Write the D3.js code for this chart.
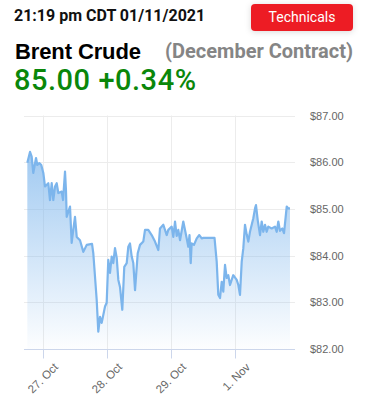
<!DOCTYPE html>
<html>
<head>
<meta charset="utf-8">
<script src="https://cdn.jsdelivr.net/npm/d3@7"></script>
<style>
	html, body { margin: 0; padding: 0; background: #fff; }
	svg { display: block; font-family: Roboto, "Noto Sans", sans-serif; }
</style>
</head>
<body>
<svg id="chart" width="369" height="395"></svg>
<script>

// trading days, 0 = 27 Oct (weekend dropped)
var dayTicks	= [0, 1, 2, 3];
var dayLabels	= ["27. Oct", "28. Oct", "29. Oct", "1. Nov"];
var priceTicks	= [82, 83, 84, 85, 86, 87];

var days = [
	-0.245, -0.203, -0.177, -0.152, -0.109, -0.089, -0.058, -0.027, 0.005, 0.031,
	0.083, 0.109, 0.136, 0.161, 0.188, 0.214, 0.239, 0.292, 0.313, 0.344,
	0.359, 0.370, 0.422, 0.448, 0.473, 0.500, 0.527, 0.578, 0.630, 0.683,
	0.766, 0.786, 0.839, 0.864, 0.891, 0.917, 0.969, 0.995, 1.020, 1.047,
	1.073, 1.098, 1.125, 1.152, 1.177, 1.203, 1.239, 1.270, 1.308, 1.333,
	1.359, 1.386, 1.411, 1.438, 1.480, 1.516, 1.567, 1.594, 1.645, 1.698,
	1.750, 1.802, 1.828, 1.880, 1.933, 1.958, 2.011, 2.036, 2.063, 2.089,
	2.114, 2.141, 2.192, 2.245, 2.270, 2.289, 2.308, 2.323, 2.359, 2.402,
	2.442, 2.480, 2.505, 2.680, 2.714, 2.739, 2.766, 2.792, 2.817, 2.844,
	2.870, 2.895, 2.922, 2.948, 2.973, 3.027, 3.052, 3.078, 3.105, 3.130,
	3.156, 3.183, 3.208, 3.234, 3.261, 3.286, 3.313, 3.328, 3.355, 3.391,
	3.417, 3.442, 3.469, 3.495, 3.520, 3.573, 3.625, 3.652, 3.677, 3.703,
	3.739, 3.766, 3.808, 3.833, 3.859
];

var prices = [
	85.99, 86.22, 86.12, 85.77, 86.09, 85.94, 85.98, 85.94, 85.77, 85.48,
	85.55, 85.19, 85.55, 85.19, 85.48, 85.55, 85.34, 85.37, 85.19, 85.80,
	85.40, 84.83, 85.05, 84.27, 84.55, 84.83, 84.40, 84.33, 84.08, 84.23,
	84.25, 84.05, 83.05, 82.37, 82.69, 82.56, 82.91, 82.99, 83.91, 83.63,
	83.98, 83.84, 84.16, 83.95, 83.48, 83.33, 82.84, 83.76, 83.84, 84.19,
	84.26, 83.98, 83.84, 83.26, 84.05, 84.23, 84.30, 84.55, 84.55, 84.44,
	84.30, 84.12, 84.58, 84.66, 84.44, 84.55, 84.62, 84.40, 84.73, 84.42,
	84.55, 84.33, 84.73, 84.37, 84.19, 84.44, 83.84, 84.26, 84.23, 84.37,
	84.44, 84.37, 84.38, 84.38, 83.87, 83.16, 83.09, 83.44, 83.23, 83.80,
	83.52, 83.58, 83.37, 83.48, 83.58, 83.48, 83.37, 83.16, 83.87, 84.16,
	84.66, 84.45, 84.30, 84.51, 84.66, 84.80, 85.01, 85.08, 84.76, 84.44,
	84.73, 84.51, 84.66, 84.51, 84.62, 84.58, 84.62, 84.51, 84.73, 84.53,
	84.58, 84.48, 85.05, 85.01, 85.01
];

var PLOT_LEFT	= 24;
var PLOT_RIGHT	= 295;
var AXIS_FONT	= "'Liberation Sans', Arial, sans-serif";

function drawHeader(svg) {

	svg.append("text")
		.attr("x", 14)
		.attr("y", 21)
		.attr("font-size", 16)
		.attr("font-weight", "bold")
		.attr("fill", "#111")
		.text("21:19 pm CDT 01/11/2021");

	var btn = svg.append("g");

	btn.append("rect")
		.attr("x", 251)
		.attr("y", 4)
		.attr("width", 102)
		.attr("height", 27)
		.attr("rx", 4)
		.attr("fill", "#ed1c24")
		.style("filter", "drop-shadow(0 1px 3px rgba(0,0,0,0.15))");

	btn.append("text")
		.attr("x", 302)
		.attr("y", 22)
		.attr("text-anchor", "middle")
		.attr("font-size", 14)
		.attr("fill", "#fff")
		.text("Technicals");

	// the reference face is wider than what we have, so stretch the spacing
	svg.append("text")
		.attr("x", 15)
		.attr("y", 58.5)
		.attr("font-family", AXIS_FONT)
		.attr("font-size", 22)
		.attr("font-weight", "bold")
		.attr("fill", "#000")
		.attr("textLength", 126)
		.attr("lengthAdjust", "spacing")
		.text("Brent Crude");

	svg.append("text")
		.attr("x", 353)
		.attr("y", 58)
		.attr("text-anchor", "end")
		.attr("font-size", 20)
		.attr("font-weight", "bold")
		.attr("fill", "#858585")
		.text("(December Contract)");

	svg.append("text")
		.attr("x", 14)
		.attr("y", 90)
		.attr("font-size", 29)
		.attr("font-weight", 500)
		.attr("fill", "#0a870a")
		.attr("textLength", 182)
		.attr("lengthAdjust", "spacing")
		.text("85.00 +0.34%");
}

function main() {

	var svg = d3.select("#chart");

	drawHeader(svg);

	var x = d3.scaleLinear().domain([0, 3]).range([43, 235]);
	var y = d3.scaleLinear().domain([82, 87]).range([349, 115.5]);

	var data = days.map(function(d, i) {
		return { day: d, price: prices[i] };
	});

	var grad = svg.append("defs").append("linearGradient")
		.attr("id", "fade")
		.attr("gradientUnits", "userSpaceOnUse")
		.attr("x1", 0).attr("x2", 0)
		.attr("y1", y(87)).attr("y2", y(82));

	grad.append("stop").attr("offset", "0%").attr("stop-color", "#7cb5ec").attr("stop-opacity", 0.85);
	grad.append("stop").attr("offset", "100%").attr("stop-color", "#7cb5ec").attr("stop-opacity", 0.02);

	// grid
	svg.append("g")
		.selectAll("line")
		.data(priceTicks.slice(1))
		.join("line")
		.attr("x1", PLOT_LEFT)
		.attr("x2", PLOT_RIGHT)
		.attr("y1", function(d) { return Math.round(y(d)) + 0.5; })
		.attr("y2", function(d) { return Math.round(y(d)) + 0.5; })
		.attr("stroke", "#ececec");

	svg.append("g")
		.selectAll("line")
		.data(dayTicks)
		.join("line")
		.attr("x1", function(d) { return Math.round(x(d)) + 0.5; })
		.attr("x2", function(d) { return Math.round(x(d)) + 0.5; })
		.attr("y1", y(87))
		.attr("y2", y(82))
		.attr("stroke", "#ececec");

	var area = d3.area()
		.x(function(d) { return x(d.day); })
		.y0(y(82))
		.y1(function(d) { return y(d.price); });

	var line = d3.line()
		.x(function(d) { return x(d.day); })
		.y(function(d) { return y(d.price); });

	svg.append("path")
		.datum(data)
		.attr("d", area)
		.attr("fill", "url(#fade)");

	svg.append("path")
		.datum(data)
		.attr("d", line)
		.attr("fill", "none")
		.attr("stroke", "#7cb5ec")
		.attr("stroke-width", 2.2)
		.attr("stroke-linejoin", "round");

	// bottom axis
	var xAxis = d3.axisBottom(x)
		.tickValues(dayTicks)
		.tickFormat(function(d, i) { return dayLabels[i]; })
		.tickSize(9)
		.tickSizeOuter(0);

	var gx = svg.append("g")
		.attr("transform", "translate(0," + (Math.round(y(82)) + 0.5) + ")")
		.call(xAxis);

	gx.select(".domain").remove();
	gx.insert("line", ":first-child")
		.attr("x1", PLOT_LEFT)
		.attr("x2", PLOT_RIGHT)
		.attr("stroke", "#ccd6eb");
	gx.selectAll(".tick line").attr("stroke", "#ccd6eb");
	gx.selectAll(".tick text")
		.attr("font-size", 11.5)
		.attr("font-family", AXIS_FONT)
		.attr("fill", "#666")
		.attr("text-anchor", "end")
		.attr("transform", "translate(4,7) rotate(-45)")
		.attr("dy", "0.35em");

	// right price labels
	var yAxis = d3.axisRight(y)
		.tickValues(priceTicks)
		.tickFormat(function(d) { return "$" + d3.format(".2f")(d); })
		.tickSize(0);

	var gy = svg.append("g")
		.attr("transform", "translate(310,0)")
		.call(yAxis);

	gy.select(".domain").remove();
	gy.selectAll(".tick text")
		.attr("x", 0)
		.attr("font-size", 11)
		.attr("font-family", AXIS_FONT)
		.attr("fill", "#666");
}

main();
</script>
</body>
</html>
